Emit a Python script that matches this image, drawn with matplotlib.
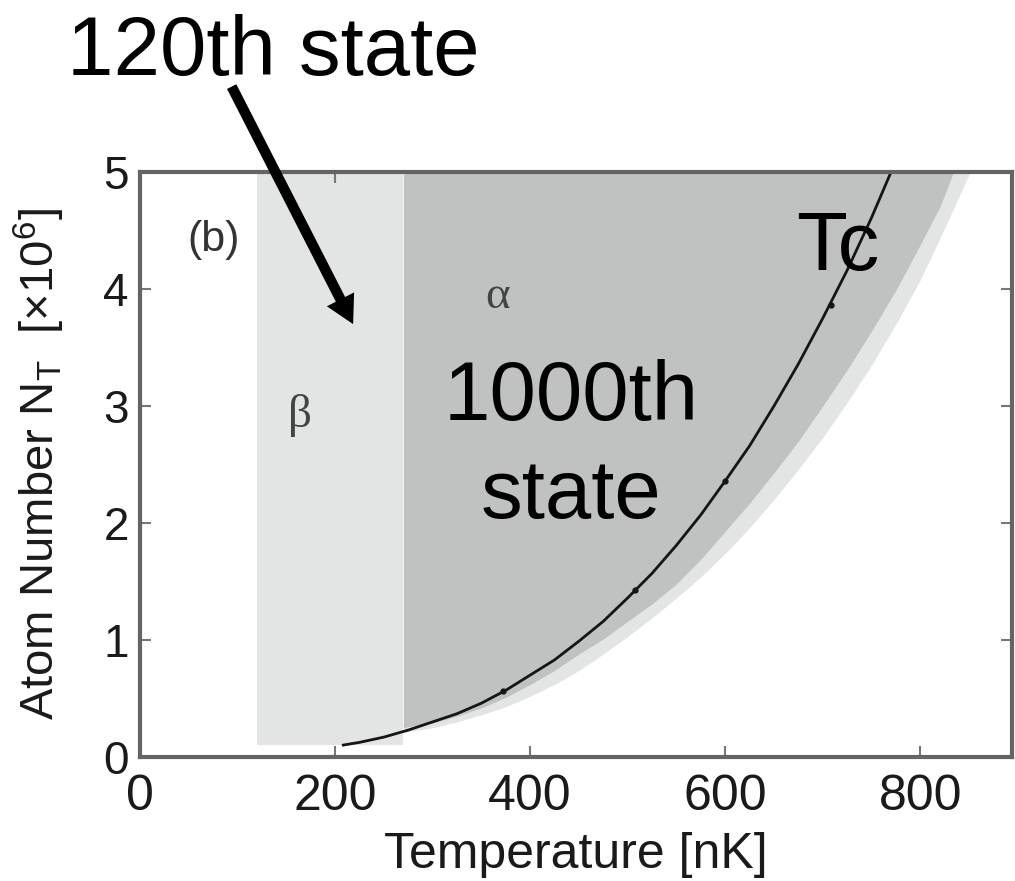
import matplotlib
matplotlib.use("Agg")
import matplotlib.pyplot as plt

plt.rcParams['font.family'] = ['Liberation Sans', 'DejaVu Sans']
plt.rcParams['mathtext.fontset'] = 'custom'
plt.rcParams['mathtext.rm'] = 'Liberation Sans'

# Critical temperature curve Tc(N)
tc_T = [207, 225, 250, 275, 300, 325, 350, 375, 400, 425, 450, 475, 500, 525,
        550, 575, 600, 625, 650, 675, 700, 725, 750, 770]
tc_N = [0.10, 0.125, 0.17, 0.23, 0.30, 0.37, 0.46, 0.57, 0.70, 0.83, 0.99, 1.16,
        1.36, 1.57, 1.81, 2.07, 2.36, 2.66, 3.00, 3.36, 3.75, 4.16, 4.61, 5.00]
tc_mark_T = [372, 508, 600, 708]
tc_mark_N = [0.56, 1.43, 2.36, 3.86]

# Region beta (light band)
beta_T = [120, 270]
beta_N = [0.10, 5.0]

# Region alpha (dark area) right/lower boundary
alpha_T = [270, 275, 300, 325, 350, 375, 400, 425, 450, 475, 500, 525, 550, 575,
           600, 625, 650, 675, 700, 725, 750, 775, 800, 820, 834]
alpha_N = [0.25, 0.26, 0.29, 0.35, 0.42, 0.51, 0.62, 0.74, 0.88, 1.01, 1.16, 1.31,
           1.48, 1.69, 1.93, 2.17, 2.43, 2.70, 3.00, 3.31, 3.64, 3.99, 4.38, 4.70, 5.00]

# Faint halo outside the alpha boundary
halo_T = [270, 300, 325, 350, 375, 400, 425, 450, 475, 500, 525, 550, 575, 600,
          625, 650, 675, 700, 725, 750, 775, 800, 825, 851]
halo_N = [0.21, 0.25, 0.30, 0.36, 0.43, 0.52, 0.62, 0.74, 0.88, 1.03, 1.19, 1.36,
          1.54, 1.74, 1.96, 2.20, 2.46, 2.73, 3.03, 3.35, 3.70, 4.08, 4.52, 5.00]

x_ticks = [0, 200, 400, 600, 800]
y_ticks = [0, 1, 2, 3, 4, 5]

LIGHT = '#e3e4e4'
DARK = '#c0c1c1'
SPINE = '#646464'

fig = plt.figure(figsize=(10.15, 8.81), dpi=100)
ax = fig.add_axes([140 / 1015, 1 - 757 / 881, (1012 - 140) / 1015, (757 - 172) / 881])
ax.set_xlim(0, 894)
ax.set_ylim(0, 5)

# beta band
ax.fill_between(beta_T, [beta_N[0]] * 2, [beta_N[1]] * 2, color=LIGHT, lw=0, zorder=1)

# halo then alpha region
top = alpha_N[-1]
ax.fill_between(halo_T, halo_N, [top] * len(halo_T), color=LIGHT, lw=0, zorder=2)
ax.fill_between(alpha_T, alpha_N, [top] * len(alpha_T), color=DARK, lw=0, zorder=3)

# Tc curve
ax.plot(tc_T, tc_N, color='#151515', lw=2.0, zorder=4, solid_capstyle='butt')
ax.plot(tc_mark_T, tc_mark_N, ls='none', marker='o', ms=3.5, color='#151515', zorder=4)

ax.set_xticks(x_ticks)
ax.set_yticks(y_ticks)
ax.tick_params(axis='x', labelsize=36, pad=12)
ax.tick_params(axis='y', labelsize=33, pad=8)
ax.tick_params(direction='in', length=8, width=1.5, color='#777777',
               top=True, right=True, labelcolor='#1a1a1a')
for s in ax.spines.values():
    s.set_color(SPINE)
    s.set_linewidth(3.0)
    s.set_zorder(6)

ax.set_xlabel('Temperature [nK]', fontsize=36, color='#1a1a1a', labelpad=9)
ax.set_ylabel('Atom Number N$_{\\mathregular{T}}$  [×10$^{\\mathregular{6}}$]',
              fontsize=34, color='#1a1a1a', labelpad=26)

# annotations
ax.text(75, 4.42, '(b)', fontsize=31, color='#333333', ha='center', va='center', zorder=7)
ax.text(367, 3.93, 'α', fontsize=34, family=['Liberation Serif', 'DejaVu Serif'],
        color='#444444', ha='center', va='center', zorder=7)
ax.text(164, 2.92, 'β', fontsize=34, family=['Liberation Serif', 'DejaVu Serif'],
        color='#444444', ha='center', va='center', zorder=7)
ax.text(442, 2.88, '1000th', fontsize=60, ha='center', va='baseline', color='black', zorder=7)
ax.text(442, 2.04, 'state', fontsize=60, ha='center', va='baseline', color='black', zorder=7)
ax.text(715, 4.16, 'Tc', fontsize=60, ha='center', va='baseline', color='black', zorder=7)
ax.text(137, 5.83, '120th state', fontsize=60, ha='center', va='baseline', color='black',
        zorder=7, clip_on=False)

ax.annotate('', xy=(218.5, 3.70), xytext=(94, 5.73),
            arrowprops=dict(arrowstyle='simple,head_length=20,head_width=22,tail_width=7.5',
                            mutation_scale=1, color='black', lw=0,
                            shrinkA=0, shrinkB=0),
            annotation_clip=False, zorder=8)

fig.savefig('out.png', dpi=100)
